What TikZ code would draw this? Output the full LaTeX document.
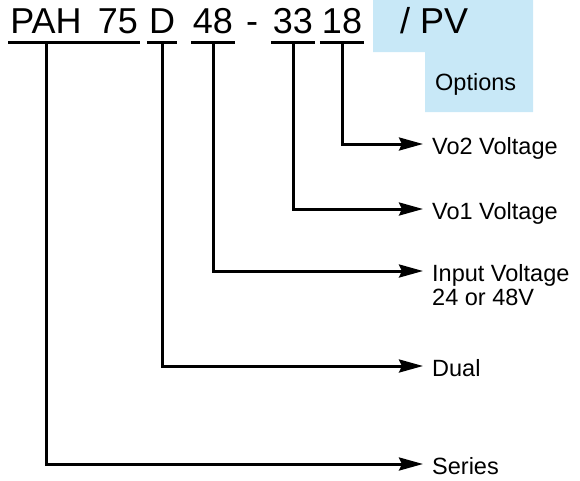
\documentclass[tikz,border=0pt]{standalone}
\usepackage{fontspec}
\setmainfont{Liberation Sans}
\usetikzlibrary{arrows.meta}
\definecolor{optblue}{RGB}{200,232,247}
\tikzset{
  code/.style={inner xsep=2pt, inner ysep=0pt, text height=26pt, text depth=9pt, anchor=base, font=\fontsize{36}{40}\selectfont},
  lab/.style={inner sep=0pt, text height=22pt, text depth=2pt, anchor=west, font=\fontsize{23.5}{27}\selectfont},
  uline/.style={line width=3pt},
  conn/.style={line width=3pt, -{Stealth[length=24pt,width=13pt,inset=3pt]}, shorten >=9pt},
}
\begin{document}
\begin{tikzpicture}[x=1pt,y=-1pt]
\useasboundingbox (0,0) rectangle (580,480);
\fill[optblue] (373,0) -- (533,0) -- (533,112) -- (425,112) -- (425,52) -- (373,52) -- cycle;

% type code
\node[code] (pah) at (46,33) {PAH};
\node[code] (watt) at (118,33) {75};
\node[code] (dual) at (162,33) {D};
\node[code] (vin) at (213,33) {48};
\node[code] (dash) at (252,33) {-};
\node[code] (vo1) at (293,33) {33};
\node[code] (vo2) at (342,33) {18};
\node[code, anchor=base west] (opt) at (398,33) {/ PV};
\node[lab] (lopt) at (435,80) {Options};

% meanings
\node[lab] (lvo2) at (432,144) {Vo2 Voltage};
\node[lab] (lvo1) at (432,209) {Vo1 Voltage};
\node[lab] (lvin) at (432,271) {Input Voltage};
\node[lab, anchor=north west] (lvin2) at (lvin.south west) {24 or 48V};
\node[lab] (ldual) at (432,366) {Dual};
\node[lab] (lser) at (432,464) {Series};

\draw[uline] (pah.south west) -- (watt.south east);
\foreach \n in {dual,vin,vo1,vo2}
  \draw[uline] (\n.south west) -- (\n.south east);

\foreach \a/\b in {pah/lser,dual/ldual,vin/lvin,vo1/lvo1,vo2/lvo2}
  \draw[conn] (\a.south) |- (\b.west);
\end{tikzpicture}
\end{document}
